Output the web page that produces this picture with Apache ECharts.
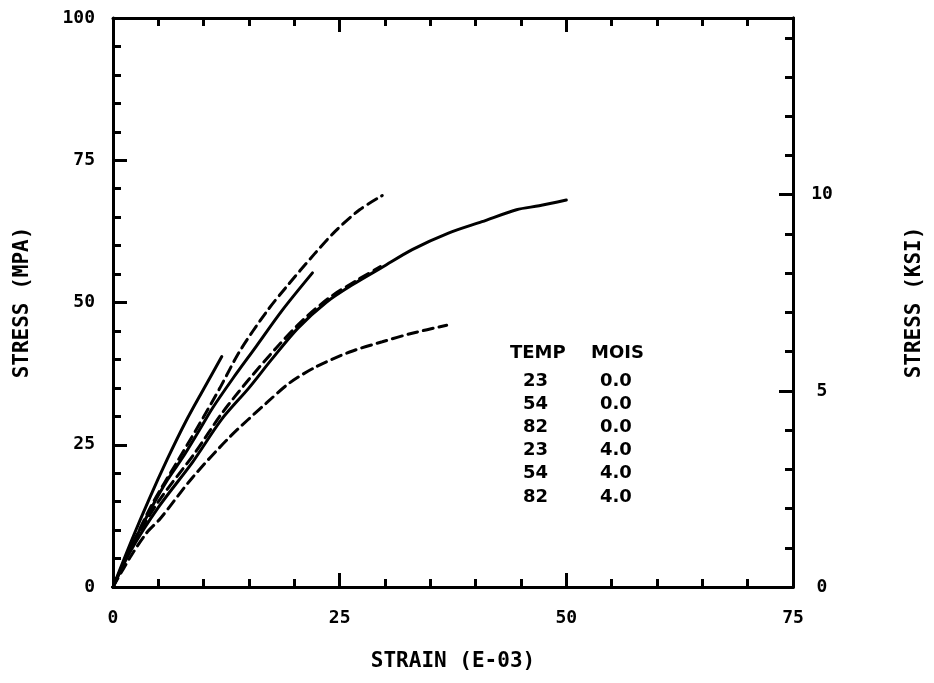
<!DOCTYPE html>
<html>
<head>
<meta charset="utf-8">
<script src="https://cdn.jsdelivr.net/npm/echarts@6/dist/echarts.min.js"></script>
<style>
html,body{margin:0;padding:0;background:#fff;}
#c{width:934px;height:683px;}
</style>
</head>
<body>
<div id="c"></div>
<script>
// ---- data ----
const xTicks = [0, 25, 50, 75];
const yTicksMPa = [0, 25, 50, 75, 100];
const yTicksKsi = [0, 5, 10];
const MPA_PER_KSI = 6.894757;

const tempLegend = ['23', '54', '82', '23', '54', '82'];
const moistLegend = ['0.0', '0.0', '0.0', '4.0', '4.0', '4.0'];

// strain (E-03), stress (MPa)
const s23dry = [[0,0],[2,8],[4,15.5],[6,22.5],[8,29],[10,34.8],[12,40.5]];
const s54dry = [[0,0],[2,7],[4.1,13.5],[6,18.8],[7.7,22.8],[9.5,27.5],[11,31.5],[13.2,36.6],[15.8,42.3],[18.7,48.7],[22,55.2]];
const s82dry = [[0,0],[2,6.5],[5,14],[8.8,22],[12,29.5],[15,35],[17.5,40],[20.4,45.5],[23.5,50],[26.5,53.2],[29.7,56.2],[33,59.3],[37,62.2],[40.7,64.2],[44.5,66.3],[47,67],[50,68]];
const s23wet = [[0,0],[2,7],[4.4,14.8],[7,21.8],[9.6,28.8],[11.8,35],[14,41.5],[16.9,48.3],[19.1,52.7],[22.2,58.5],[24.5,62.5],[27.2,66.3],[29.7,68.8]];
const s54wet = [[0,0],[2,7],[5,15],[9,23.5],[12,30.5],[15,36.5],[18,42],[21,47],[24,51],[27,54],[29.5,56.3]];
const s82wet = [[0,0],[2,5.5],[3.7,9.5],[5.2,12],[8.8,19.3],[12.9,26.4],[16.9,32.3],[19.5,35.9],[22.4,38.7],[26.1,41.3],[29.7,43.1],[33,44.6],[36.8,46]];

const seriesData = [
  {name: '23 0.0', data: s23dry, dashed: false},
  {name: '54 0.0', data: s54dry, dashed: false},
  {name: '82 0.0', data: s82dry, dashed: false},
  {name: '23 4.0', data: s23wet, dashed: true},
  {name: '54 4.0', data: s54wet, dashed: true},
  {name: '82 4.0', data: s82wet, dashed: true}
];

// ---- chart ----
const FONT = '"DejaVu Sans Mono", monospace';
const LFONT = '"DejaVu Sans", sans-serif';
const black = '#000';
const lineAx = {show: true, onZero: false, lineStyle: {color: black, width: 3}};
const majorTick = {show: true, inside: true, length: 14, lineStyle: {color: black, width: 3}};
const minorTick = {show: true, splitNumber: 5, length: 8, lineStyle: {color: black, width: 3}};
const lbl = {color: black, fontFamily: FONT, fontWeight: 'bold', fontSize: 18};
const nameStyle = {color: black, fontFamily: FONT, fontWeight: 'bold', fontSize: 21};
const ksiMax = 100 / MPA_PER_KSI;

const chart = echarts.init(document.getElementById('c'), null, {renderer: 'canvas'});

const graphics = [];
const legFont = 'bold 18px ' + LFONT;
graphics.push({type: 'text', x: 510, y: 353, style: {text: 'TEMP', font: legFont, fill: black, verticalAlign: 'middle'}});
graphics.push({type: 'text', x: 591, y: 353, style: {text: 'MOIS', font: legFont, fill: black, verticalAlign: 'middle'}});
tempLegend.forEach((t, i) => {
  graphics.push({type: 'text', x: 523, y: 381 + i * 23.2, style: {text: t, font: legFont, fill: black, verticalAlign: 'middle'}});
  graphics.push({type: 'text', x: 600, y: 381 + i * 23.2, style: {text: moistLegend[i], font: legFont, fill: black, verticalAlign: 'middle'}});
});

chart.setOption({
  backgroundColor: '#fff',
  animation: false,
  grid: {left: 113, right: 141, top: 18, bottom: 96, containLabel: false},
  xAxis: [
    {
      type: 'value', min: 0, max: 75, interval: 25, position: 'bottom',
      axisLine: lineAx, axisTick: majorTick, minorTick: minorTick,
      splitLine: {show: false}, minorSplitLine: {show: false},
      axisLabel: Object.assign({margin: 22, formatter: v => xTicks.includes(v) ? String(v) : ''}, lbl),
      name: 'STRAIN (E-03)', nameLocation: 'middle', nameGap: 64,
      nameTextStyle: nameStyle
    },
    {
      type: 'value', min: 0, max: 75, interval: 25, position: 'top',
      axisLine: lineAx, axisTick: majorTick, minorTick: minorTick,
      splitLine: {show: false}, axisLabel: {show: false}
    }
  ],
  yAxis: [
    {
      type: 'value', min: 0, max: 100, interval: 25, position: 'left',
      axisLine: lineAx, axisTick: majorTick, minorTick: minorTick,
      splitLine: {show: false}, minorSplitLine: {show: false},
      axisLabel: Object.assign({margin: 18, formatter: v => yTicksMPa.includes(v) ? String(v) : ''}, lbl),
      name: 'STRESS (MPA)', nameLocation: 'middle', nameGap: 80,
      nameTextStyle: nameStyle
    },
    {
      type: 'value', min: 0, max: ksiMax, interval: 5, position: 'right',
      axisLine: lineAx, axisTick: majorTick,
      splitLine: {show: false},
      axisLabel: Object.assign({margin: 29, align: 'center', showMaxLabel: false,
        formatter: v => yTicksKsi.includes(Math.round(v * 1000) / 1000) ? String(Math.round(v)) : ''}, lbl),
      name: 'STRESS (KSI)', nameLocation: 'middle', nameGap: 111, nameRotate: 90,
      nameTextStyle: nameStyle
    },
    {
      type: 'value', min: 0, max: ksiMax, interval: 1, position: 'right',
      axisLine: lineAx,
      axisTick: {show: true, inside: true, length: 8, lineStyle: {color: black, width: 3}},
      splitLine: {show: false}, axisLabel: {show: false}
    }
  ],
  series: seriesData.map(s => ({
    name: s.name, type: 'line', xAxisIndex: 0, yAxisIndex: 0,
    data: s.data, showSymbol: false, smooth: 0.3,
    lineStyle: {color: black, width: 3, type: s.dashed ? [10, 6] : 'solid', cap: 'round'}
  })),
  graphic: graphics
});
</script>
</body>
</html>
